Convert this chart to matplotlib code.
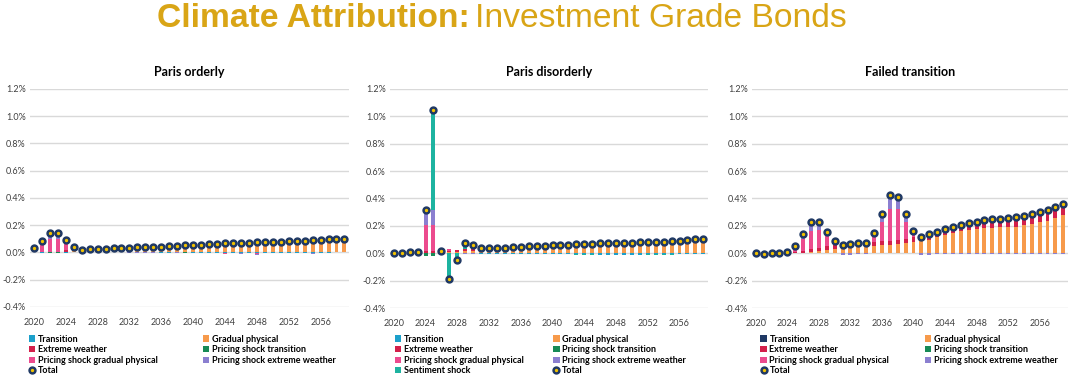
import matplotlib
matplotlib.use("Agg")
import matplotlib.pyplot as plt
import numpy as np

years = list(range(2020, 2060))
xticks = list(range(2020, 2060, 4))

# ---- Paris orderly ----
po_total = [0.032, 0.085, 0.141, 0.144, 0.092, 0.037, 0.016, 0.023, 0.026, 0.028,
            0.031, 0.031, 0.033, 0.036, 0.036, 0.038, 0.041, 0.044, 0.046, 0.051,
            0.054, 0.056, 0.062, 0.062, 0.067, 0.069, 0.069, 0.072, 0.074, 0.074,
            0.077, 0.077, 0.082, 0.082, 0.085, 0.090, 0.092, 0.095, 0.097, 0.100]
po_transition = [0, -0.003, 0, 0, -0.003, 0, 0, -0.002, -0.002, 0,
                 0, 0, 0, 0, 0, 0, -0.003, -0.004, 0, 0,
                 -0.003, -0.004, -0.004, -0.005, -0.006, -0.006, -0.006, -0.007, -0.007, -0.008,
                 -0.008, -0.008, -0.008, -0.007, -0.007, -0.007, -0.006, -0.005, 0, 0]
po_gradual = [0, 0, 0, 0, 0.002, 0.008, 0.010, 0.017, 0.020, 0.022,
              0.025, 0.025, 0.027, 0.029, 0.029, 0.031, 0.033, 0.036, 0.037, 0.041,
              0.043, 0.045, 0.050, 0.050, 0.054, 0.056, 0.056, 0.058, 0.060, 0.060,
              0.062, 0.062, 0.066, 0.066, 0.069, 0.073, 0.075, 0.077, 0.079, 0.081]
po_extreme = [0.003, 0.002, 0.004, 0.003, 0.013, 0.012, 0.006, 0.006, 0.006, 0.006,
              0.006, 0.006, 0.006, 0.007, 0.007, 0.007, 0.008, 0.008, 0.009, 0.010,
              0.011, 0.011, 0.012, 0.012, 0.013, 0.013, 0.013, 0.014, 0.014, 0.014,
              0.015, 0.015, 0.016, 0.016, 0.016, 0.017, 0.017, 0.018, 0.018, 0.019]
po_ps_transition = [0, -0.002, -0.005, -0.005, -0.002, 0, 0, 0, 0, 0,
                    0, 0, 0, 0, 0, 0, 0, 0, 0, -0.004,
                    0, 0, 0, 0, 0, 0, 0, 0, 0, 0,
                    0, 0, 0, 0, 0, 0, 0, 0, 0, 0]
po_ps_gradual = [0.018, 0.063, 0.095, 0.098, 0.055, 0.012, 0, 0, 0, 0,
                 0, 0, 0, 0, 0, 0, 0, 0, 0, 0,
                 0, 0, -0.003, 0, -0.004, 0, 0, 0, -0.004, 0,
                 0, 0, 0, 0, 0, 0, 0, 0, 0, 0]
po_ps_extreme = [0.010, 0.020, 0.042, 0.043, 0.022, 0.005, -0.003, -0.003, -0.003, 0,
                 0, 0, -0.004, -0.004, -0.004, -0.004, -0.004, -0.004, -0.004, 0,
                 -0.004, 0, 0, 0, 0, 0, -0.005, 0, -0.005, 0,
                 0, 0, 0, 0, 0, -0.003, 0, 0, 0, 0]

# ---- Paris disorderly ----
pd_total = [0.005, 0.005, 0.012, 0.012, 0.316, 1.050, 0.019, -0.188, -0.048, 0.077,
            0.063, 0.038, 0.041, 0.039, 0.039, 0.044, 0.046, 0.051, 0.051, 0.056,
            0.059, 0.063, 0.063, 0.066, 0.068, 0.071, 0.073, 0.076, 0.076, 0.078,
            0.078, 0.083, 0.083, 0.085, 0.085, 0.088, 0.090, 0.098, 0.102, 0.107]
pd_transition = [0, 0, 0, 0, 0, 0, 0, 0, 0, 0,
                 0, -0.002, -0.003, -0.003, -0.004, -0.004, -0.005, -0.005, -0.005, -0.006,
                 -0.006, -0.007, -0.007, -0.008, -0.009, -0.009, -0.010, -0.010, -0.010, -0.010,
                 -0.010, -0.010, -0.009, -0.009, -0.008, -0.007, -0.006, -0.005, -0.004, -0.003]
pd_gradual = [0.003, 0.003, 0.008, 0.008, 0.003, 0.003, 0.005, 0.006, 0.010, 0.015,
              0.020, 0.025, 0.032, 0.032, 0.033, 0.037, 0.039, 0.043, 0.043, 0.047,
              0.050, 0.053, 0.053, 0.055, 0.057, 0.059, 0.061, 0.063, 0.063, 0.064,
              0.064, 0.068, 0.068, 0.069, 0.069, 0.071, 0.072, 0.079, 0.082, 0.087]
pd_extreme = [0.002, 0.002, 0.004, 0.004, 0.010, 0.010, 0.008, 0.012, 0.015, 0.015,
              0.015, 0.010, 0.006, 0.006, 0.006, 0.007, 0.007, 0.008, 0.008, 0.009,
              0.009, 0.010, 0.010, 0.011, 0.011, 0.012, 0.012, 0.013, 0.013, 0.014,
              0.014, 0.015, 0.015, 0.016, 0.016, 0.017, 0.018, 0.019, 0.020, 0.020]
pd_ps_transition = [0, 0, 0, 0, -0.020, -0.020, 0, 0, 0, 0,
                    0, 0, 0, 0, 0, 0, 0, 0, 0, 0,
                    0, 0, 0, 0, 0, 0, 0, 0, 0, 0,
                    0, 0, 0, 0, 0, 0, 0, 0, 0, 0]
pd_ps_gradual = [0, 0, 0, 0, 0.195, 0.195, 0.008, 0.010, 0, 0,
                 0, 0, 0, 0, 0, 0, 0, 0, 0, 0,
                 0, 0, 0, 0, 0, 0, 0, 0, 0, 0,
                 0, 0, 0, 0, 0, 0, 0, 0, 0, 0]
pd_ps_extreme = [0, 0, 0, 0, 0.105, 0.105, -0.012, 0, 0, -0.008,
                 -0.006, 0, -0.005, -0.005, 0, 0, 0, 0, 0, 0,
                 0, 0, 0, 0, 0, 0, 0, 0, 0, 0,
                 0, 0, 0, 0, 0, 0, 0, 0, 0, 0]
pd_sentiment = [0, 0, 0, 0, 0, 0.740, 0, -0.215, -0.075, 0.047,
                0.030, 0.005, 0, 0, -0.002, -0.002, -0.002, -0.002, -0.002, -0.002,
                -0.002, -0.002, -0.002, -0.002, -0.002, -0.002, -0.003, -0.003, -0.003, -0.003,
                -0.003, -0.003, -0.003, -0.003, -0.003, -0.003, -0.003, -0.003, -0.003, -0.003]

# ---- Failed transition ----
ft_total = [0.0, -0.002, 0.0, 0.0, 0.007, 0.055, 0.142, 0.229, 0.229, 0.154,
            0.087, 0.058, 0.067, 0.075, 0.077, 0.149, 0.289, 0.424, 0.414, 0.287,
            0.164, 0.116, 0.140, 0.157, 0.176, 0.190, 0.205, 0.219, 0.231, 0.241,
            0.248, 0.253, 0.258, 0.265, 0.275, 0.284, 0.301, 0.318, 0.337, 0.361]
ft_transition = [0] * 40
ft_gradual = [0, 0, 0, 0, 0.002, 0.003, 0.005, 0.010, 0.015, 0.025,
              0.030, 0.035, 0.050, 0.055, 0.060, 0.055, 0.060, 0.060, 0.065, 0.075,
              0.080, 0.092, 0.100, 0.118, 0.133, 0.147, 0.159, 0.169, 0.176, 0.183,
              0.186, 0.190, 0.193, 0.195, 0.205, 0.214, 0.227, 0.239, 0.258, 0.277]
ft_extreme = [0, 0, 0, 0, 0.003, 0.004, 0.012, 0.020, 0.021, 0.028,
              0.035, 0.020, 0.015, 0.018, 0.017, 0.025, 0.030, 0.030, 0.030, 0.029,
              0.038, 0.034, 0.040, 0.039, 0.043, 0.043, 0.046, 0.050, 0.055, 0.058,
              0.062, 0.063, 0.065, 0.070, 0.070, 0.070, 0.074, 0.079, 0.079, 0.084]
ft_ps_transition = [0] * 40
ft_ps_gradual = [0, 0, 0, 0, 0.002, 0.040, 0.085, 0.136, 0.133, 0.072,
                 0.012, 0.003, 0.002, 0.002, 0, 0.050, 0.139, 0.235, 0.230, 0.125,
                 0.027, 0, 0, 0, 0, 0, 0, 0, 0, 0,
                 0, 0, 0, 0, 0, 0, 0, 0, 0, 0]
ft_ps_extreme = [0, 0, 0, 0, 0, 0.008, 0.040, 0.063, 0.060, 0.029,
                 0.010, -0.010, -0.010, -0.008, -0.008, 0.019, 0.060, 0.100, 0.090, 0.058,
                 0.020, -0.012, -0.010, -0.004, -0.003, -0.003, -0.003, -0.003, -0.003, -0.003,
                 -0.003, -0.003, -0.003, -0.003, -0.003, -0.003, -0.003, -0.003, -0.003, -0.003]

c_transition = "#1CA0CB"
c_transition_ft = "#1F3864"
c_gradual = "#F79A4B"
c_extreme = "#D31F4A"
c_ps_transition = "#178A56"
c_ps_gradual = "#EC4B8E"
c_ps_extreme = "#8B7FD0"
c_sentiment = "#1DB3A0"
navy = "#1F3864"
gold = "#D9A516"

plt.rcParams['font.family'] = ['Lato', 'DejaVu Sans']

fig = plt.figure(figsize=(10.68, 3.77), dpi=100)


def stacked(ax, series):
    pos = np.zeros(len(years))
    neg = np.zeros(len(years))
    handles = []
    for label, vals, col in series:
        v = np.array(vals, dtype=float)
        bottom = np.where(v >= 0, pos, neg)
        h = ax.bar(years, v, 0.5, bottom=bottom, color=col, label=label, zorder=2)
        pos = pos + np.where(v > 0, v, 0)
        neg = neg + np.where(v < 0, v, 0)
        handles.append(h)
    return handles


def panel(rect, title, series, total, leg_x):
    ax = fig.add_axes(rect)
    hs = stacked(ax, series)
    t1, = ax.plot(years, total, "o", ms=5, color=navy, zorder=4)
    t2, = ax.plot(years, total, "o", ms=1.4, color="#F2C200", zorder=5)
    ax.set_xlim(2019.5, 2059.6)
    ax.set_ylim(-0.4, 1.2)
    ax.set_yticks(np.arange(-0.4, 1.21, 0.2))
    ax.set_yticklabels(["%.1f%%" % t for t in np.arange(-0.4, 1.21, 0.2)])
    ax.set_xticks(xticks)
    ax.tick_params(length=0, labelsize=6.5, colors="#404040", pad=3)
    ax.tick_params(axis="x", pad=8)
    ax.grid(axis="y", color="#D9D9D9", lw=1, zorder=0)
    for s in ax.spines.values():
        s.set_visible(False)
    ax.set_title(title, fontsize=9, fontweight="bold", pad=9)
    # legend: Excel style, two columns filled row by row
    labels = [s[0] for s in series] + ["Total"]
    handles = hs + [(t1, t2)]
    col1 = list(range(0, len(labels), 2))
    col2 = list(range(1, len(labels), 2))
    for xx, idx in zip(leg_x, (col1, col2)):
        fig.legend([handles[i] for i in idx], [labels[i] for i in idx],
                   loc="upper left", bbox_to_anchor=(xx, 0.112), frameon=False,
                   prop={"size": 6.5, "weight": "bold"}, handlelength=0.7,
                   handleheight=0.7, handletextpad=0.3, labelspacing=0.17,
                   borderpad=0, borderaxespad=0)
    return ax


panel([0.028, 0.186, 0.299, 0.578], "Paris orderly",
      [("Transition", po_transition, c_transition),
       ("Gradual physical", po_gradual, c_gradual),
       ("Extreme weather", po_extreme, c_extreme),
       ("Pricing shock transition", po_ps_transition, c_ps_transition),
       ("Pricing shock gradual physical", po_ps_gradual, c_ps_gradual),
       ("Pricing shock extreme weather", po_ps_extreme, c_ps_extreme)],
      po_total, (0.027, 0.19))

panel([0.365, 0.183, 0.298, 0.581], "Paris disorderly",
      [("Transition", pd_transition, c_transition),
       ("Gradual physical", pd_gradual, c_gradual),
       ("Extreme weather", pd_extreme, c_extreme),
       ("Pricing shock transition", pd_ps_transition, c_ps_transition),
       ("Pricing shock gradual physical", pd_ps_gradual, c_ps_gradual),
       ("Pricing shock extreme weather", pd_ps_extreme, c_ps_extreme),
       ("Sentiment shock", pd_sentiment, c_sentiment)],
      pd_total, (0.370, 0.518))

panel([0.704, 0.183, 0.296, 0.581], "Failed transition",
      [("Transition", ft_transition, c_transition_ft),
       ("Gradual physical", ft_gradual, c_gradual),
       ("Extreme weather", ft_extreme, c_extreme),
       ("Pricing shock transition", ft_ps_transition, c_ps_transition),
       ("Pricing shock gradual physical", ft_ps_gradual, c_ps_gradual),
       ("Pricing shock extreme weather", ft_ps_extreme, c_ps_extreme)],
      ft_total, (0.712, 0.866))

# headline
title_font = ['Liberation Sans Narrow', 'Liberation Sans']
txt1 = fig.text(0.147, 0.95, "Climate Attribution:", fontsize=24.2, fontweight="bold",
                color=gold, family=title_font, va="center", ha="left")
fig.canvas.draw()
bb = txt1.get_window_extent()
x2 = bb.x1 / fig.bbox.width + 0.005
fig.text(x2, 0.95, "Investment Grade Bonds", fontsize=24.2, color=gold,
         family=title_font, va="center", ha="left")

fig.savefig("out.png", dpi=100)
